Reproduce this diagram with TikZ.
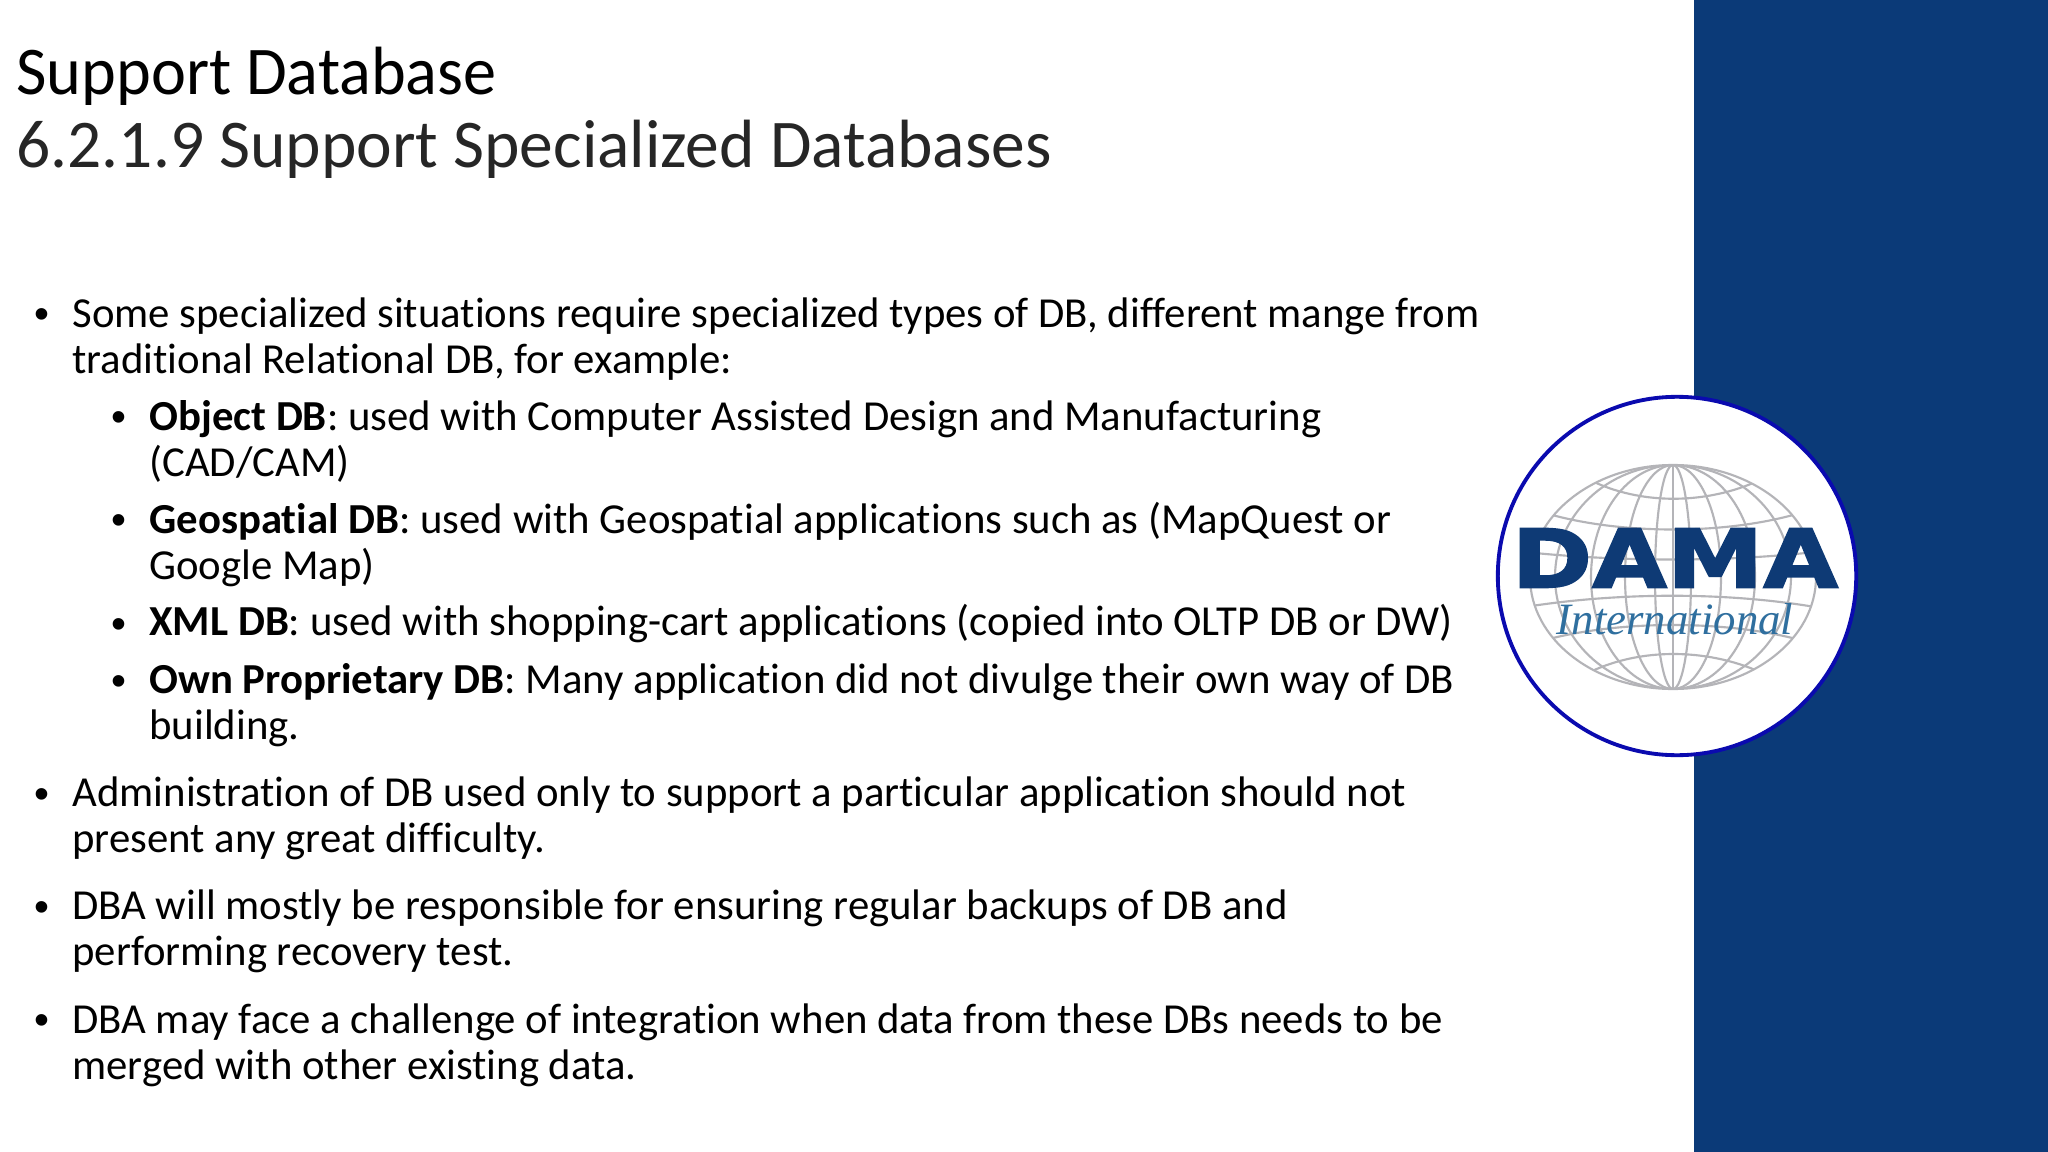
\documentclass[tikz,border=0pt]{standalone}
\usepackage{graphicx}
\usepackage{fontspec}
\setmainfont[Ligatures={NoCommon}]{Carlito}
\newfontfamily\logoserif{Liberation Serif}
\newfontfamily\logosans[BoldFeatures={FakeBold=2}]{DejaVu Sans}
\newfontfamily\pucefont{Liberation Sans}
\usetikzlibrary{shapes.geometric}
\definecolor{panelblue}{HTML}{0B3A78}
\definecolor{ringblue}{HTML}{0A0AAF}
\definecolor{globegray}{HTML}{B4B4B8}
\definecolor{damablue}{HTML}{0E3A75}
\definecolor{intlblue}{HTML}{2F6F9F}

\begin{document}
\begin{tikzpicture}[x=0.46875pt, y=-0.46875pt]
\tikzset{titre/.style={anchor=base west, inner sep=0pt, font=\fontsize{32}{36}\selectfont},
  corps/.style={anchor=base west, inner sep=0pt, align=left, font=\fontsize{20.04}{21.4}\selectfont},
  puce/.style={anchor=base, inner sep=0pt, font=\pucefont\fontsize{20}{21.4}\selectfont},
  parallele/.style={draw=globegray, line width=1pt}}
\useasboundingbox (0, 0) rectangle (2048, 1152);
\fill[panelblue] (1694, 0) rectangle (2048, 1152);
\node[titre] (T1) at (16, 95) {\scalebox{0.97}[1]{Support Database}};
\node[titre, text=black!85] (T2) at (16, 168) {\scalebox{0.988}[1]{6.2.1.9 Support Specialized Databases}};
% bullets
\foreach \nom/\px/\py in {P1/42/329, P2/119/431, P3/119/534, P4/119/638, P5/119/695, P6/42/808, P7/42/921, P8/42/1034}
  \node[puce] (\nom) at (\px, \py) {•};
% the base of a node on two lines is its last line
\node[corps] (L1) at (72, 373) {Some specialized situations require specialized types of DB, different mange from\\traditional Relational DB, for example:};
\node[corps] (L2) at (149, 476) {\textbf{Object DB}: used with Computer Assisted Design and Manufacturing\\(CAD/CAM)};
\node[corps] (L3) at (149, 579) {\textbf{Geospatial DB}: used with Geospatial applications such as (MapQuest or\\Google Map)};
\node[corps] (L4) at (149, 635) {\textbf{XML DB}: used with shopping-cart applications (copied into OLTP DB or DW)};
\node[corps] (L5) at (149, 739) {\textbf{Own Proprietary DB}: Many application did not divulge their own way of DB\\building.};
\node[corps] (L6) at (72, 852) {Administration of DB used only to support a particular application should not\\present any great difficulty.};
\node[corps] (L7) at (72, 965) {DBA will mostly be responsible for ensuring regular backups of DB and\\performing recovery test.};
\node[corps] (L8) at (72, 1079) {DBA may face a challenge of integration when data from these DBs needs to be\\merged with other existing data.};
% logo
\node[draw=ringblue, fill=white, line width=1.8pt, circle, minimum size=168pt, inner sep=0pt] (Logo) at (1677, 576) {};
\begin{scope}
\clip (1673, 577) ellipse [x radius=143, y radius=112];
\foreach \rx in {18, 48, 82, 118}
  \draw[parallele] (1673, 577) ellipse [x radius=\rx, y radius=112];
\draw[parallele] (1673, 465) -- (1673, 689);
\draw[parallele] (1590, 480) .. controls (1640, 505) and (1706, 505) .. (1760, 480);
\draw[parallele] (1545, 513) .. controls (1620, 535) and (1726, 535) .. (1800, 513);
\draw[parallele] (1525, 552) .. controls (1620, 562) and (1726, 562) .. (1815, 552);
\draw[parallele] (1525, 607) .. controls (1620, 592) and (1726, 592) .. (1815, 607);
\draw[parallele] (1545, 640) .. controls (1620, 620) and (1726, 620) .. (1800, 640);
\draw[parallele] (1590, 672) .. controls (1640, 648) and (1706, 648) .. (1760, 672);
\end{scope}
\draw[parallele] (1673, 577) ellipse [x radius=143, y radius=112];
\node[inner sep=0pt, text=damablue] (Dama) at (1675, 558) {\scalebox{1.62}[1.36]{\logosans\bfseries\fontsize{28}{30}\selectfont DAMA}};
\node[anchor=base, inner sep=0pt, text=intlblue] (Intl) at (1675, 634) {\logoserif\itshape\fontsize{21}{24}\selectfont International};
\end{tikzpicture}
\end{document}
